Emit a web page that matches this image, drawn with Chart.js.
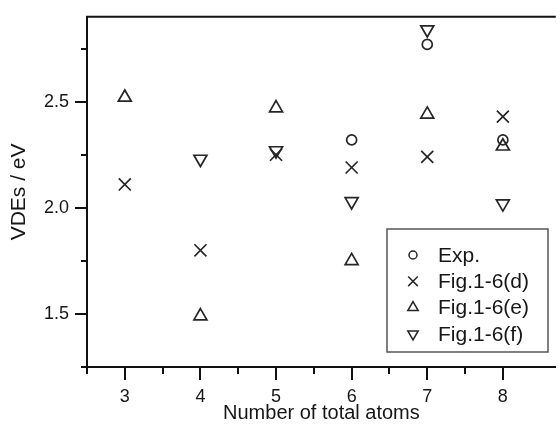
<!DOCTYPE html>
<html>
<head>
<meta charset="utf-8">
<script src="https://cdn.jsdelivr.net/npm/chart.js@4.4.0/dist/chart.umd.min.js"></script>
<style>
  html, body { margin: 0; padding: 0; background: #fff; overflow: hidden; }
  #wrap { width: 566px; height: 433px; }
</style>
</head>
<body>
<div id="wrap"><canvas id="chart"></canvas></div>
<script>
// cluster size (number of total atoms)
const atoms = [3, 4, 5, 6, 7, 8];
// VDEs in eV, null = no point
const expVals = [null, null, null, 2.32, 2.77, 2.32];
const figD = [2.11, 1.80, 2.25, 2.19, 2.24, 2.43];
const figE = [2.52, 1.49, 2.47, 1.75, 2.44, 2.29];
const figF = [null, 2.23, 2.27, 2.03, 2.84, 2.02];
const seriesNames = ['Exp.', 'Fig.1-6(d)', 'Fig.1-6(e)', 'Fig.1-6(f)'];
const xTickLabels = ['3', '4', '5', '6', '7', '8'];
const yTickLabels = ['1.5', '2.0', '2.5'];

const FONT = 'Liberation Sans, Arial, Helvetica, sans-serif';
const INK = '#161616';

function toPoints(vals) {
  return atoms.map((x, i) => ({ x: x, y: vals[i] })).filter(p => p.y !== null);
}

function series(label, vals, style, radius, rotation) {
  return {
    label: label,
    data: toPoints(vals),
    pointStyle: style,
    pointRadius: radius,
    pointRotation: rotation || 0,
    pointBorderWidth: 1.7,
    pointBorderColor: '#262626',
    pointBackgroundColor: 'rgba(0,0,0,0)',
    showLine: false
  };
}

const isStep = (v, s) => Math.abs(v / s - Math.round(v / s)) < 1e-6;

// minor/major tick marks + top frame line
const tickMarks = {
  id: 'tickMarks',
  afterDraw(chart) {
    const { ctx, chartArea, scales: { x, y } } = chart;
    ctx.save();
    ctx.strokeStyle = '#111';
    ctx.lineWidth = 2;
    ctx.beginPath();
    ctx.moveTo(chartArea.left - 1, chartArea.top);
    ctx.lineTo(chartArea.right, chartArea.top);
    ctx.stroke();
    x.ticks.forEach(t => {
      if (!isStep(t.value, 0.5)) return;
      const len = isStep(t.value, 1) ? 13 : 7;
      const px = Math.round(x.getPixelForValue(t.value));
      ctx.beginPath();
      ctx.moveTo(px, chartArea.bottom);
      ctx.lineTo(px, chartArea.bottom + len);
      ctx.stroke();
    });
    y.ticks.forEach(t => {
      if (!isStep(t.value, 0.25)) return;
      const len = isStep(t.value, 0.5) ? 12 : 6;
      const py = Math.round(y.getPixelForValue(t.value));
      ctx.beginPath();
      ctx.moveTo(chartArea.left, py);
      ctx.lineTo(chartArea.left - len, py);
      ctx.stroke();
    });
    ctx.restore();
  }
};

// boxed legend inside the plot
const boxLegend = {
  id: 'boxLegend',
  afterDraw(chart, args, opts) {
    const ctx = chart.ctx;
    ctx.save();
    ctx.strokeStyle = '#555';
    ctx.lineWidth = 1.5;
    ctx.strokeRect(opts.left, opts.top, opts.width, opts.height);
    ctx.font = '21px ' + FONT;
    ctx.textBaseline = 'middle';
    chart.data.datasets.forEach((ds, i) => {
      const cy = opts.top + opts.firstRow + i * opts.rowGap;
      ctx.strokeStyle = '#262626';
      ctx.fillStyle = 'rgba(0,0,0,0)';
      Chart.helpers.drawPoint(ctx, {
        pointStyle: ds.pointStyle,
        rotation: ds.pointRotation,
        radius: ds.pointRadius * 0.8,
        borderWidth: 1.4
      }, opts.left + 26, cy);
      ctx.fillStyle = INK;
      ctx.fillText(ds.label, opts.left + 51, cy + 1);
    });
    ctx.restore();
  }
};

new Chart(document.getElementById('chart'), {
  type: 'scatter',
  data: {
    datasets: [
      series(seriesNames[0], expVals, 'circle', 5),
      series(seriesNames[1], figD, 'crossRot', 8.5),
      series(seriesNames[2], figE, 'triangle', 7.5),
      series(seriesNames[3], figF, 'triangle', 7.5, 180)
    ]
  },
  plugins: [tickMarks, boxLegend],
  options: {
    responsive: true,
    maintainAspectRatio: false,
    animation: false,
    events: [],
    layout: { padding: { top: 14, right: 3, bottom: 0, left: 0 } },
    scales: {
      x: {
        type: 'linear',
        min: 2.5,
        max: 8.7,
        afterFit: s => { s.height = 66; },
        grid: { display: false, drawTicks: true, tickLength: 13 },
        border: { display: true, color: '#111', width: 2 },
        ticks: {
          stepSize: 0.5,
          autoSkip: false,
          maxRotation: 0,
          padding: 6,
          color: INK,
          font: { family: FONT, size: 18 },
          callback: v => xTickLabels.includes(String(v)) ? String(v) : ''
        },
        title: {
          display: true,
          text: 'Number of total atoms',
          color: INK,
          font: { family: FONT, size: 20 },
          padding: { top: 0, bottom: 8 }
        }
      },
      y: {
        type: 'linear',
        min: 1.25,
        max: 2.9,
        afterFit: s => { s.width = 87; },
        grid: { display: false, drawTicks: true, tickLength: 12 },
        border: { display: true, color: '#111', width: 2 },
        ticks: {
          stepSize: 0.25,
          autoSkip: false,
          padding: 6,
          color: INK,
          font: { family: FONT, size: 18 },
          callback: v => {
            const s = v.toFixed(1);
            return isStep(v, 0.5) && yTickLabels.includes(s) ? s : '';
          }
        },
        title: {
          display: true,
          text: 'VDEs / eV',
          color: INK,
          font: { family: FONT, size: 21 },
          padding: { top: 7, bottom: 0 }
        }
      }
    },
    plugins: {
      legend: { display: false },
      tooltip: { enabled: false },
      boxLegend: { left: 387, top: 229, width: 161, height: 123, firstRow: 26, rowGap: 26.3 }
    }
  }
});
</script>
</body>
</html>
